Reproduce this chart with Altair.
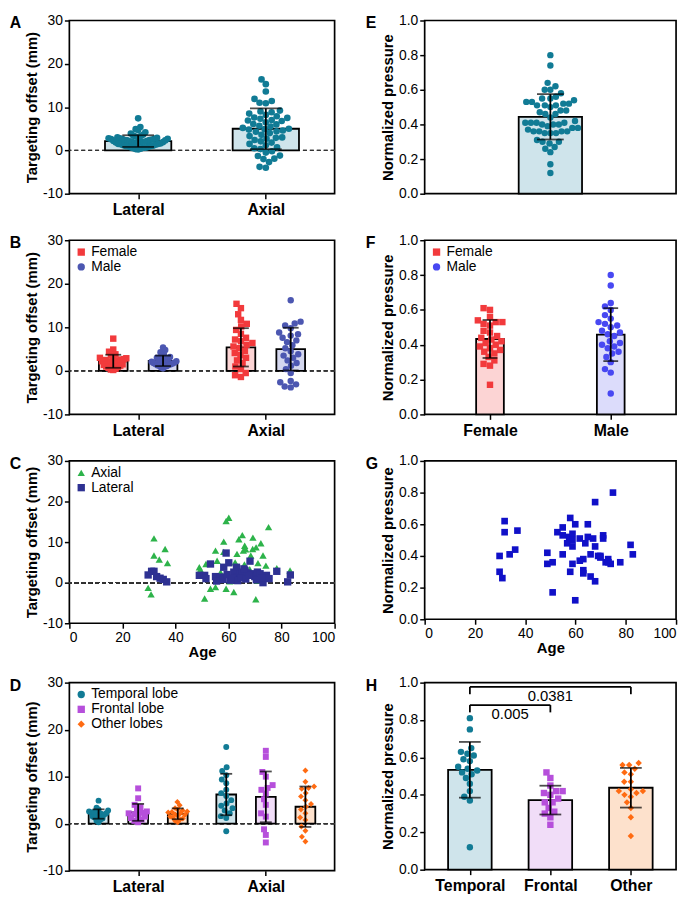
import math
import altair as alt
import pandas as pd

FONT = "Liberation Sans"

# ---------------- colours ----------------
TEAL, TEAL_L = "#117b95", "#cfe4eb"
RED, RED_L = "#f23a3c", "#fcd4d4"
SLATE, SLATE_L = "#4c57b1", "#d4d7ef"
BLUE, BLUE_L = "#4848f2", "#dcdcfb"
GREEN, NAVY = "#2db34a", "#2e3192"
SQBLUE = "#1010c8"
PURPLE, PURPLE_L = "#b64fdb", "#f1ddf8"
ORANGE, ORANGE_L = "#ff6b12", "#fde1cc"

# ---------------- data ----------------
# A: targeting offset (mm)
a_lateral = [7.4, 5.4, 4.9, 4.7, 4.2, 3.9, 3.6, 3.4, 3.2, 3.0, 3.0, 2.9, 2.8, 2.8, 2.7, 2.6, 2.6, 2.5,
             2.4, 2.4, 2.3, 2.2, 2.2, 2.1, 2.0, 2.0, 1.9, 1.8, 1.8, 1.7, 1.6, 1.6, 1.5, 1.4, 1.3, 1.2,
             1.1, 1.0, 0.9, 0.8, 0.7, 0.6, 0.5, 0.4, 0.3, 0.2, 2.7, 3.3, 1.9, 1.5, 2.3, 0.6, 1.0]
a_axial = [16.4, 15.3, 13.6, 11.9, 11.4, 11.0, 10.9, 9.2, 9.0, 8.8, 8.5, 8.2, 7.9, 7.6, 7.5, 7.3, 7.0,
           6.9, 6.8, 6.5, 6.1, 6.0, 5.7, 5.5, 5.2, 5.0, 4.9, 4.8, 4.6, 4.4, 4.3, 4.0, 3.6, 3.3, 3.0,
           2.9, 2.7, 2.4, 2.1, 1.8, 1.5, 1.2, 0.7, 0.5, 0.3, -0.2, -0.5, -1.2, -1.3, -1.9, -2.0, -2.7,
           -3.8, -4.0]
a_mean = [2.15, 5.0]
a_sd = [1.35, 4.7]

# B: by sex
b_female_lateral = [7.4, 4.9, 4.4, 3.8, 3.5, 3.2, 3.0, 2.9, 2.7, 2.5, 2.4, 2.2, 2.1, 2.0, 1.8, 1.7,
                    1.5, 1.4, 1.2, 1.0, 0.9, 0.7, 0.5, 0.3, 0.2, 2.6]
b_male_lateral = [5.4, 4.8, 4.3, 3.8, 3.4, 3.2, 3.0, 2.8, 2.7, 2.5, 2.4, 2.3, 2.2, 2.1, 2.0, 1.9,
                  1.8, 1.7, 1.6, 1.5, 1.4, 1.3, 1.2, 1.1, 1.0, 0.8, 0.6]
b_female_axial = [15.4, 14.4, 13.0, 11.7, 10.8, 10.2, 9.4, 8.5, 7.6, 7.2, 6.8, 6.4, 6.0, 5.6, 5.2,
                  4.6, 4.1, 3.6, 3.0, 2.4, 1.8, 1.0, 0.4, -0.5, -1.0, -1.4]
b_male_axial = [16.2, 11.3, 10.9, 10.4, 9.8, 8.8, 8.4, 8.1, 7.6, 7.0, 6.6, 5.9, 5.2, 4.5, 3.8, 3.5,
                3.0, 2.4, 1.8, 1.2, 0.4, -0.5, -2.3, -2.6, -3.1, -3.6, -3.8]
b_mean = [2.2, 2.3, 5.4, 5.0]      # F-lat, M-lat, F-ax, M-ax
b_sd = [1.5, 1.2, 4.4, 4.9]

# C: offset vs age
c_axial_age = [29.7, 30.8, 31.9, 31.9, 33.9, 36.1, 37.0, 49.0, 49.4, 51.0, 51.5, 53.2, 55.1, 55.1,
               55.7, 58.2, 58.2, 59.1, 60.1, 59.1, 60.5, 62.0, 63.2, 63.9, 65.2, 65.6, 66.1, 66.5,
               68.4, 69.1, 69.2, 70.3, 70.4, 71.1, 72.2, 73.0, 74.1, 75.1, 78.2, 83.2, 57.0, 61.0,
               64.0, 67.0, 71.0, 73.0, 62.5, 66.0, 68.0, 57.5]
c_axial_val = [-1.3, -2.9, 10.9, 6.7, 5.7, 8.3, 4.8, 3.8, 3.2, -3.9, 4.6, -1.5, -1.1, 7.9, 5.4, 10.1,
               7.6, 15.2, 16.0, -1.5, 0.3, -2.3, 7.1, 10.7, 11.7, 7.9, 9.1, 8.2, 6.7, 8.3, 11.1, -4.1,
               8.7, 4.8, 9.7, 6.7, 4.2, 13.7, 3.6, 3.0, 2.5, 1.5, 3.0, 2.0, 0.5, 1.0, 5.0, 4.5, 3.3, 0.8]
c_lateral_age = [29.7, 31.0, 31.9, 32.9, 34.2, 35.4, 36.7, 49.0, 51.0, 53.2, 55.1, 57.0, 58.2, 59.1,
                 60.1, 60.8, 62.0, 63.0, 63.3, 64.3, 65.2, 66.2, 67.1, 68.1, 69.0, 69.9, 70.9, 71.9,
                 73.0, 74.3, 75.3, 78.2, 82.3, 83.3, 51.5, 55.5, 58.0, 59.5, 61.5, 63.5, 64.8, 66.5,
                 67.8, 70.5, 72.5, 65.8]
c_lateral_val = [1.9, 2.8, 2.8, 1.5, 1.1, 0.8, 0.2, 1.8, 1.8, 4.6, 1.5, 1.4, 3.8, 7.3, 4.9, 0.6, 2.6,
                 3.8, 1.4, 2.2, 2.6, 3.0, 2.4, 5.3, 2.2, 1.5, 2.6, 2.2, 0.0, 1.8, 1.0, 2.8, 0.2, 1.9,
                 1.0, 0.4, 0.8, 2.0, 1.0, 0.5, 1.2, 0.9, 1.8, 0.7, 1.2, 3.4]

# D: by lobe
d_temporal_lateral = [4.9, 3.4, 3.0, 2.8, 2.6, 2.4, 2.2, 2.1, 2.0, 1.9, 1.7, 1.5, 1.3, 1.1, 0.9, 0.6, 0.3, 2.5]
d_frontal_lateral = [7.5, 5.4, 4.0, 3.5, 3.0, 2.6, 2.3, 2.0, 1.8, 1.5, 1.2, 0.9, 0.6, 0.3, 2.2]
d_other_lateral = [4.6, 3.9, 3.3, 3.0, 2.8, 2.6, 2.4, 2.2, 2.0, 1.9, 1.7, 1.5, 1.3, 1.1, 0.9, 0.6, 0.3, 2.5]
d_temporal_axial = [16.3, 12.0, 11.2, 10.3, 9.4, 8.6, 7.2, 6.5, 5.9, 5.0, 4.3, 3.8, 3.3, 2.8, 2.2, 1.6, 1.2, -1.6]
d_frontal_axial = [15.5, 14.2, 11.0, 10.0, 8.2, 7.6, 7.2, 6.4, 5.2, 4.0, 2.2, 1.5, -1.2, -2.4, -4.0]
d_other_axial = [11.3, 8.9, 7.9, 7.6, 7.4, 6.5, 5.8, 5.0, 4.2, 3.6, 3.0, 2.2, 1.3, 0.8, -0.6, -1.5, -2.8, -3.8]
d_mean = [2.05, 2.4, 2.1, 6.2, 5.7, 3.6]
d_sd = [1.0, 1.8, 1.15, 4.4, 5.4, 4.3]

# G / E: normalized pressure vs age
g_age = [29.8, 29.8, 30.9, 31.8, 31.8, 33.8, 36.0, 36.9, 48.8, 48.8, 50.9, 50.9, 52.8, 54.9, 54.9,
         54.9, 56.7, 57.9, 57.5, 57.9, 58.8, 58.8, 58.8, 58.8, 59.9, 59.9, 61.7, 61.7, 63.1, 63.1,
         63.1, 63.9, 64.9, 64.9, 66.0, 66.0, 67.0, 67.8, 67.8, 67.8, 69.0, 69.9, 69.9, 71.0, 71.0,
         72.0, 73.0, 73.1, 74.0, 74.9, 77.8, 81.9, 82.8]
g_pressure = [0.40, 0.30, 0.26, 0.62, 0.55, 0.41, 0.44, 0.56, 0.42, 0.35, 0.36, 0.17, 0.55, 0.58,
              0.53, 0.41, 0.48, 0.64, 0.52, 0.30, 0.54, 0.50, 0.46, 0.35, 0.60, 0.12, 0.51, 0.37,
              0.38, 0.31, 0.29, 0.48, 0.60, 0.52, 0.41, 0.27, 0.51, 0.74, 0.46, 0.24, 0.40, 0.40,
              0.39, 0.53, 0.51, 0.36, 0.38, 0.36, 0.35, 0.80, 0.36, 0.47, 0.41]
e_pressure = g_pressure
e_mean = [0.444]
e_sd = [0.131]

# F: pressure by sex
f_female = [0.61, 0.60, 0.56, 0.54, 0.53, 0.53, 0.52, 0.51, 0.48, 0.47, 0.45, 0.44, 0.43, 0.42,
            0.41, 0.40, 0.39, 0.38, 0.37, 0.36, 0.35, 0.33, 0.31, 0.29, 0.28, 0.17]
f_male = [0.80, 0.74, 0.64, 0.62, 0.60, 0.57, 0.55, 0.53, 0.52, 0.51, 0.50, 0.48, 0.47, 0.46, 0.45,
          0.42, 0.41, 0.40, 0.39, 0.38, 0.36, 0.35, 0.33, 0.30, 0.26, 0.24, 0.12]
f_mean = [0.433, 0.458]
f_sd = [0.109, 0.152]

# H: pressure by lobe
h_temporal = [0.81, 0.75, 0.65, 0.63, 0.62, 0.61, 0.59, 0.58, 0.55, 0.54, 0.53, 0.52, 0.51, 0.49,
              0.46, 0.42, 0.39, 0.37, 0.12]
h_frontal = [0.52, 0.49, 0.45, 0.42, 0.42, 0.41, 0.40, 0.38, 0.36, 0.36, 0.33, 0.31, 0.30, 0.28, 0.24]
h_other = [0.57, 0.56, 0.56, 0.54, 0.52, 0.51, 0.47, 0.47, 0.43, 0.42, 0.42, 0.41, 0.40, 0.39,
           0.36, 0.33, 0.28, 0.18]
h_mean = [0.534, 0.372, 0.438]
h_sd = [0.149, 0.077, 0.106]
sig_from = [1, 1]
sig_to = [3, 2]
sig_y = [0.977, 0.880]
sig_drop = [0.938, 0.841]
sig_text = ["0.0381", "0.005"]

# tick labels
offset_ticks = [-10, 0, 10, 20, 30]
pressure_ticks = [0.0, 0.2, 0.4, 0.6, 0.8, 1.0]
age_ticks = [0, 20, 40, 60, 80, 100]

# ---------------- helpers ----------------
LEG = dict(title=None, orient="top-left", offset=5, padding=0, rowPadding=1, labelFontSize=14,
           labelFont=FONT, labelColor="black", symbolSize=55, symbolStrokeWidth=0, labelOffset=3)
NEG_EXPR = "datum.value < 0 ? '-' + (-datum.value) : '' + datum.value"


def letter_title(s):
    return alt.TitleParams(s, anchor="start", frame="bounds", orient="top", fontSize=16,
                           fontWeight="bold", font=FONT, color="black", offset=-18, dx=-15)


def swarm_offsets(values, ppu_y, d, spread):
    order = sorted(range(len(values)), key=lambda i: values[i])
    placed = []
    offs = [0.0] * len(values)
    for i in order:
        y = values[i] * ppu_y
        cands = [0.0]
        for px, py in placed:
            dy = abs(py - y)
            if dy < d:
                dx = math.sqrt(d * d - dy * dy)
                cands += [px + dx, px - dx]
        cands.sort(key=lambda c: (abs(c), c))
        for c in cands:
            if all((c - px) ** 2 + (y - py) ** 2 >= d * d - 1e-6 for px, py in placed):
                offs[i] = c
                break
        placed.append((offs[i], y))
    m = max(abs(o) for o in offs) if offs else 0
    if m > spread:
        offs = [o * spread / m for o in offs]
    return offs


def bar_panel(letter, groups, palette, width, height, xdom, ydom, yvals, ytitle, yfmt,
              xvals, xnames, bar_px, cap_px, dot_size, dot_d, spread, show_legend=False,
              zero_line=False, brackets=None):
    ppu_x = width / (xdom[1] - xdom[0])
    ppu_y = height / (ydom[1] - ydom[0])
    pts, summ = [], []
    for g in groups:
        offs = swarm_offsets(g["values"], ppu_y, dot_d, spread)
        for v, o in zip(g["values"], offs):
            pts.append({"x": g["pos"] + o / ppu_x, "y": v, "grp": g["key"]})
        summ.append({"x": g["pos"], "mean": g["mean"], "lo": g["mean"] - g["sd"],
                     "hi": g["mean"] + g["sd"], "fill": g["fill"]})
    pts = pd.DataFrame(pts)
    summ = pd.DataFrame(summ)
    xs = alt.Scale(domain=xdom, nice=False, zero=False)
    ys = alt.Scale(domain=ydom, nice=False, zero=False)
    if xvals:
        expr = " : ".join(f"datum.value == {v} ? '{n}'" for v, n in zip(xvals, xnames)) + " : ''"
        xax = alt.Axis(values=xvals, labelExpr=expr, title=None, labelFontWeight="bold",
                       labelFontSize=16, labelPadding=3)
    else:
        xax = None
    if yfmt == "neg":
        yax = alt.Axis(values=yvals, labelExpr=NEG_EXPR, title=ytitle)
    else:
        yax = alt.Axis(values=yvals, format=yfmt, title=ytitle)

    def X(f):
        return alt.X(f, scale=xs, axis=xax)

    def Y(f):
        return alt.Y(f, scale=ys, axis=yax)

    keys = [p[0] for p in palette]
    leg = alt.Legend(**LEG) if show_legend else None
    layers = []
    if zero_line:
        layers.append(alt.Chart(summ).mark_rule(strokeDash=[4, 3], color="#333333", strokeWidth=1.3)
                      .encode(y=alt.datum(0)))
    layers.append(alt.Chart(summ).mark_bar(size=bar_px, stroke="black", strokeWidth=1.8).encode(
        x=X("x:Q"), y=Y("mean:Q"), y2=alt.datum(0), fill=alt.Fill("fill:N", scale=None)))
    layers.append(alt.Chart(pts).mark_point(filled=True, size=dot_size, opacity=1, strokeWidth=0).encode(
        x=X("x:Q"), y=Y("y:Q"),
        color=alt.Color("grp:N", scale=alt.Scale(domain=keys, range=[p[1] for p in palette]), legend=leg),
        shape=alt.Shape("grp:N", scale=alt.Scale(domain=keys, range=[p[2] for p in palette]), legend=leg)))
    layers.append(alt.Chart(summ).mark_rule(color="black", strokeWidth=1.8).encode(
        x=X("x:Q"), y=Y("lo:Q"), y2="hi:Q"))
    for f in ("lo:Q", "hi:Q"):
        layers.append(alt.Chart(summ).mark_tick(color="black", orient="horizontal", size=cap_px,
                                                thickness=1.8).encode(x=X("x:Q"), y=Y(f)))
    if brackets is not None:
        bd = pd.DataFrame(brackets)
        bd["mid"] = (bd["x1"] + bd["x2"]) / 2
        layers.append(alt.Chart(bd).mark_rule(color="black", strokeWidth=1.8).encode(
            x=X("x1:Q"), x2="x2:Q", y=Y("y:Q")))
        for f in ("x1:Q", "x2:Q"):
            layers.append(alt.Chart(bd).mark_rule(color="black", strokeWidth=1.8).encode(
                x=X(f), y=Y("ydrop:Q"), y2="y:Q"))
        layers.append(alt.Chart(bd).mark_text(font=FONT, fontSize=15, baseline="top", dy=2,
                                              color="black").encode(
            x=X("mid:Q"), y=Y("y:Q"), text="label:N"))
    return alt.layer(*layers).properties(width=width, height=height, title=letter_title(letter))


def scatter_panel(letter, df, palette, width, height, ydom, yvals, ytitle, yfmt, dot_size,
                  show_legend=False, zero_line=False):
    xs = alt.Scale(domain=[0, 100], nice=False)
    ys = alt.Scale(domain=ydom, nice=False, zero=False)
    xax = alt.Axis(values=age_ticks, title="Age", labelPadding=2, titlePadding=1)
    if yfmt == "neg":
        yax = alt.Axis(values=yvals, labelExpr=NEG_EXPR, title=ytitle)
    else:
        yax = alt.Axis(values=yvals, format=yfmt, title=ytitle)
    keys = [p[0] for p in palette]
    leg = alt.Legend(**LEG) if show_legend else None
    layers = []
    if zero_line:
        layers.append(alt.Chart(df).mark_rule(strokeDash=[4, 3], color="#333333", strokeWidth=1.3)
                      .encode(y=alt.datum(0)))
    layers.append(alt.Chart(df).mark_point(filled=True, size=dot_size, opacity=1, strokeWidth=0).encode(
        x=alt.X("age:Q", scale=xs, axis=xax), y=alt.Y("val:Q", scale=ys, axis=yax),
        color=alt.Color("grp:N", scale=alt.Scale(domain=keys, range=[p[1] for p in palette]), legend=leg),
        shape=alt.Shape("grp:N", scale=alt.Scale(domain=keys, range=[p[2] for p in palette]), legend=leg)))
    return alt.layer(*layers).properties(width=width, height=height, title=letter_title(letter))


LW = 268   # left column plot width
RW = 254   # right column plot width
OFF = "Targeting offset (mm)"
PRS = "Normalized pressure"

# ---------------- panels ----------------
pA = bar_panel("A",
               [dict(pos=1, key="all", values=a_lateral, mean=a_mean[0], sd=a_sd[0], fill=TEAL_L),
                dict(pos=2, key="all", values=a_axial, mean=a_mean[1], sd=a_sd[1], fill=TEAL_L)],
               [("all", TEAL, "circle")], LW, 175, [0.5, 2.5], [-10, 30], offset_ticks, OFF, "neg",
               [1, 2], ["Lateral", "Axial"], 67, 32, 45, 6.6, 31, zero_line=True)

bo = 0.195
pB = bar_panel("B",
               [dict(pos=1 - bo, key="Female", values=b_female_lateral, mean=b_mean[0], sd=b_sd[0], fill=RED_L),
                dict(pos=1 + bo, key="Male", values=b_male_lateral, mean=b_mean[1], sd=b_sd[1], fill=SLATE_L),
                dict(pos=2 - bo, key="Female", values=b_female_axial, mean=b_mean[2], sd=b_sd[2], fill=RED_L),
                dict(pos=2 + bo, key="Male", values=b_male_axial, mean=b_mean[3], sd=b_sd[3], fill=SLATE_L)],
               [("Female", RED, "square"), ("Male", SLATE, "circle")], LW, 176, [0.5, 2.5], [-10, 30],
               offset_ticks, OFF, "neg", [1, 2], ["Lateral", "Axial"], 29, 16, 42, 6.4, 14,
               show_legend=True, zero_line=True)

c_df = pd.DataFrame({"age": c_axial_age + c_lateral_age,
                     "val": c_axial_val + c_lateral_val,
                     "grp": ["Axial"] * len(c_axial_age) + ["Lateral"] * len(c_lateral_age)})
pC = scatter_panel("C", c_df, [("Axial", GREEN, "triangle-up"), ("Lateral", NAVY, "square")],
                   LW, 164, [-10, 30], offset_ticks, OFF, "neg", 55, show_legend=True, zero_line=True)

do = 0.31
pD = bar_panel("D",
               [dict(pos=1 - do, key="Temporal lobe", values=d_temporal_lateral, mean=d_mean[0], sd=d_sd[0], fill=TEAL_L),
                dict(pos=1, key="Frontal lobe", values=d_frontal_lateral, mean=d_mean[1], sd=d_sd[1], fill=PURPLE_L),
                dict(pos=1 + do, key="Other lobes", values=d_other_lateral, mean=d_mean[2], sd=d_sd[2], fill=ORANGE_L),
                dict(pos=2 - do, key="Temporal lobe", values=d_temporal_axial, mean=d_mean[3], sd=d_sd[3], fill=TEAL_L),
                dict(pos=2, key="Frontal lobe", values=d_frontal_axial, mean=d_mean[4], sd=d_sd[4], fill=PURPLE_L),
                dict(pos=2 + do, key="Other lobes", values=d_other_axial, mean=d_mean[5], sd=d_sd[5], fill=ORANGE_L)],
               [("Temporal lobe", TEAL, "circle"), ("Frontal lobe", PURPLE, "square"),
                ("Other lobes", ORANGE, "diamond")], LW, 190, [0.5, 2.5], [-10, 30], offset_ticks, OFF,
               "neg", [1, 2], ["Lateral", "Axial"], 20, 12, 36, 6.0, 10, show_legend=True, zero_line=True)

pE = bar_panel("E",
               [dict(pos=1, key="all", values=e_pressure, mean=e_mean[0], sd=e_sd[0], fill=TEAL_L)],
               [("all", TEAL, "circle")], RW, 175, [0.5, 1.5], [0, 1], pressure_ticks, PRS, ".1f",
               None, None, 64, 27, 42, 8.0, 29)

pF = bar_panel("F",
               [dict(pos=1, key="Female", values=f_female, mean=f_mean[0], sd=f_sd[0], fill=RED_L),
                dict(pos=2, key="Male", values=f_male, mean=f_mean[1], sd=f_sd[1], fill=BLUE_L)],
               [("Female", RED, "square"), ("Male", BLUE, "circle")], RW, 176, [0.5, 2.5], [0, 1],
               pressure_ticks, PRS, ".1f", [1, 2], ["Female", "Male"], 28, 15, 42, 7.0, 13,
               show_legend=True)

g_df = pd.DataFrame({"age": g_age, "val": g_pressure, "grp": ["all"] * len(g_age)})
pG = scatter_panel("G", g_df, [("all", SQBLUE, "square")], RW, 160, [0, 1], pressure_ticks, PRS,
                   ".1f", 45)

pH = bar_panel("H",
               [dict(pos=1, key="Temporal", values=h_temporal, mean=h_mean[0], sd=h_sd[0], fill=TEAL_L),
                dict(pos=2, key="Frontal", values=h_frontal, mean=h_mean[1], sd=h_sd[1], fill=PURPLE_L),
                dict(pos=3, key="Other", values=h_other, mean=h_mean[2], sd=h_sd[2], fill=ORANGE_L)],
               [("Temporal", TEAL, "circle"), ("Frontal", PURPLE, "square"), ("Other", ORANGE, "diamond")],
               RW, 189, [0.5, 3.5], [0, 1], pressure_ticks, PRS, ".1f", [1, 2, 3],
               ["Temporal", "Frontal", "Other"], 44, 22, 42, 7.0, 17,
               brackets=dict(x1=sig_from, x2=sig_to, y=sig_y, ydrop=sig_drop, label=sig_text))

chart = alt.concat(pA, pE, pB, pF, pC, pG, pD, pH, columns=2,
                   spacing=alt.RowColnumber(row=14, column=28), align="each").resolve_scale(
    color="independent", shape="independent"
).resolve_legend(color="independent", shape="independent").properties(
    padding={"left": 0, "top": 0, "right": 4, "bottom": 0}
).configure_view(stroke="black", strokeWidth=1.7).configure_axis(
    labelFont=FONT, titleFont=FONT, labelFontSize=14, titleFontSize=15, titleFontWeight="bold",
    labelColor="black", titleColor="black", tickColor="black", tickWidth=1.5, tickSize=5,
    domain=False, grid=False, labelPadding=2
).configure_axisY(titlePadding=3)

chart.save("out.html", embed_options={"renderer": "svg", "actions": False})
